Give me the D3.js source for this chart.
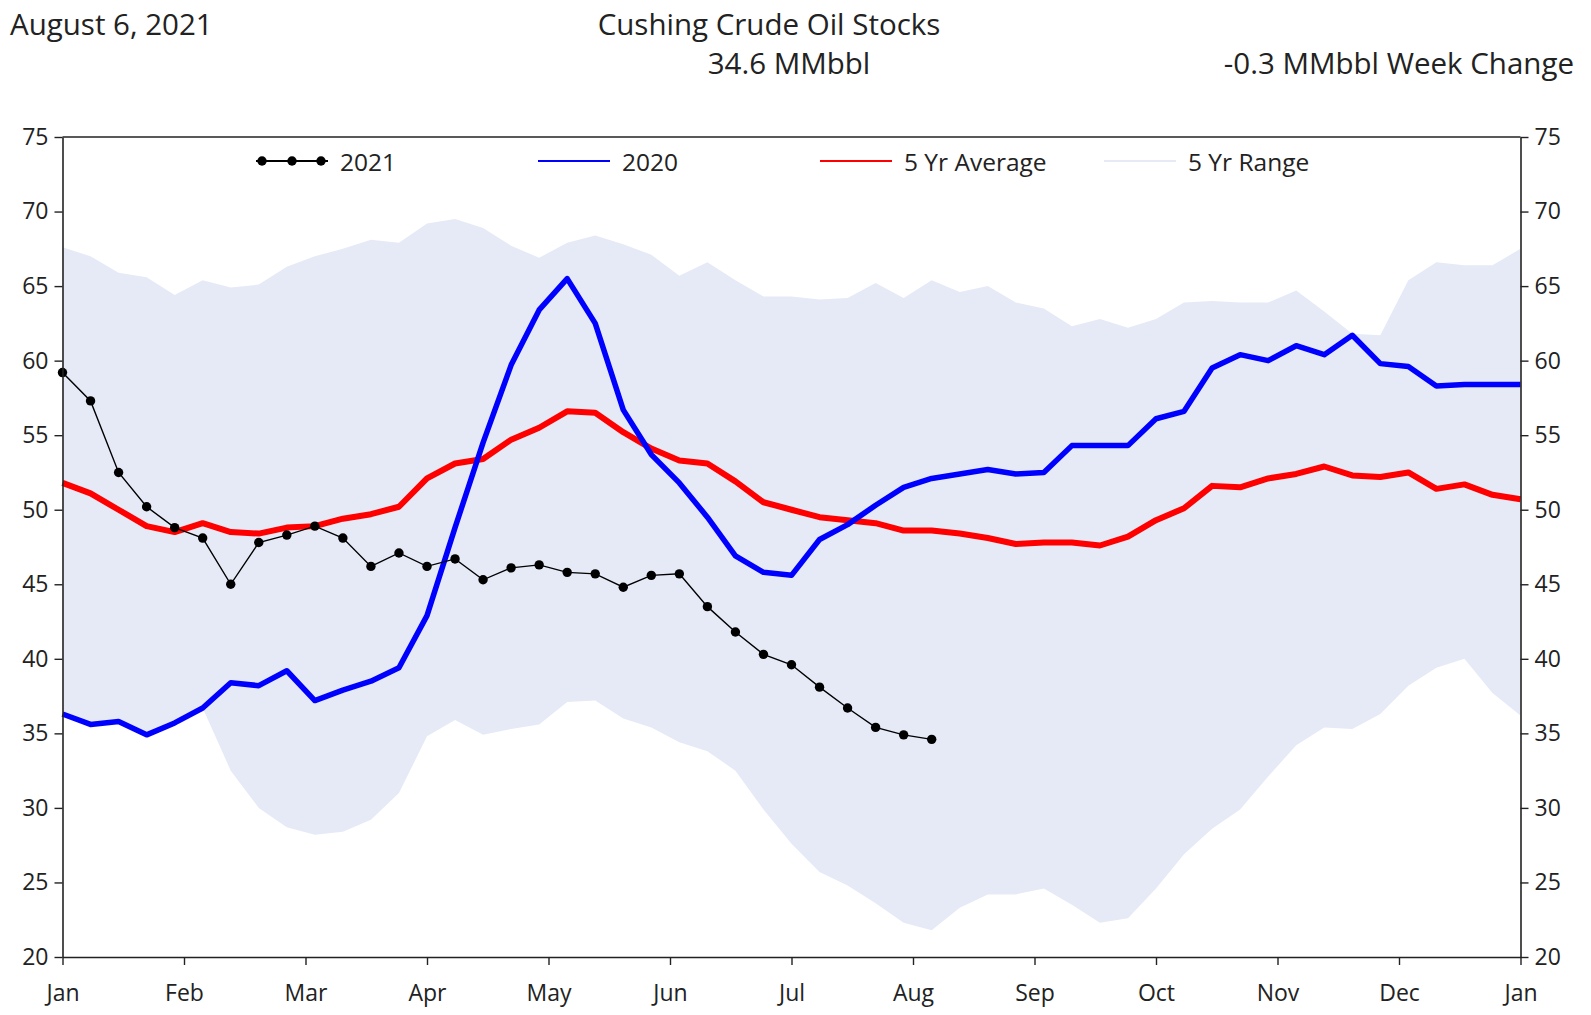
<!DOCTYPE html>
<html>
<head>
<meta charset="utf-8">
<script src="https://cdn.jsdelivr.net/npm/d3@7"></script>
<style>
  body { margin: 0; background: #fff; }
  svg { display: block; font-family: "Open Sans", "Noto Sans", sans-serif; }
</style>
</head>
<body>
<svg id="chart" width="1591" height="1015"></svg>
<script>
// weekly Cushing stocks, MMbbl (week 0 = first week of Jan)
var stocks2021 = [59.2, 57.3, 52.5, 50.2, 48.8, 48.1, 45.0, 47.8, 48.3, 48.9, 48.1, 46.2, 47.1, 46.2, 46.7, 45.3,
  46.1, 46.3, 45.8, 45.7, 44.8, 45.6, 45.7, 43.5, 41.8, 40.3, 39.6, 38.1, 36.7, 35.4, 34.9, 34.6];

var stocks2020 = [36.3, 35.6, 35.8, 34.9, 35.7, 36.7, 38.4, 38.2, 39.2, 37.2, 37.9, 38.5, 39.4, 42.9, 48.8, 54.5,
  59.7, 63.4, 65.5, 62.5, 56.7, 53.7, 51.8, 49.5, 46.9, 45.8, 45.6, 48.0, 49.0, 50.3, 51.5, 52.1,
  52.4, 52.7, 52.4, 52.5, 54.3, 54.3, 54.3, 56.1, 56.6, 59.5, 60.4, 60.0, 61.0, 60.4, 61.7, 59.8,
  59.6, 58.3, 58.4, 58.4, 58.4];

var avg5yr = [51.8, 51.1, 50.0, 48.9, 48.5, 49.1, 48.5, 48.4, 48.8, 48.9, 49.4, 49.7, 50.2, 52.1, 53.1, 53.4,
  54.7, 55.5, 56.6, 56.5, 55.2, 54.1, 53.3, 53.1, 51.9, 50.5, 50.0, 49.5, 49.3, 49.1, 48.6, 48.6,
  48.4, 48.1, 47.7, 47.8, 47.8, 47.6, 48.2, 49.3, 50.1, 51.6, 51.5, 52.1, 52.4, 52.9, 52.3, 52.2,
  52.5, 51.4, 51.7, 51.0, 50.7];

var rangeHigh5yr = [67.6, 67.0, 65.9, 65.6, 64.4, 65.4, 64.9, 65.1, 66.3, 67.0, 67.5, 68.1, 67.9, 69.2, 69.5, 68.9,
  67.7, 66.9, 67.9, 68.4, 67.8, 67.1, 65.7, 66.6, 65.4, 64.3, 64.3, 64.1, 64.2, 65.2, 64.2, 65.4,
  64.6, 65.0, 63.9, 63.5, 62.3, 62.8, 62.2, 62.8, 63.9, 64.0, 63.9, 63.9, 64.7, 63.3, 61.8, 61.7,
  65.4, 66.6, 66.4, 66.4, 67.5];

var rangeLow5yr = [36.3, 35.6, 35.8, 34.9, 35.7, 36.7, 32.5, 30.0, 28.7, 28.2, 28.4, 29.2, 31.0, 34.8, 35.9, 34.9,
  35.3, 35.6, 37.1, 37.2, 36.0, 35.4, 34.4, 33.8, 32.5, 29.9, 27.6, 25.7, 24.8, 23.6, 22.3, 21.8,
  23.3, 24.2, 24.2, 24.6, 23.5, 22.3, 22.6, 24.6, 26.9, 28.6, 29.9, 32.1, 34.2, 35.4, 35.3, 36.3,
  38.2, 39.4, 40.0, 37.7, 36.2];

var monthLabels = ["Jan", "Feb", "Mar", "Apr", "May", "Jun", "Jul", "Aug", "Sep", "Oct", "Nov", "Dec", "Jan"];
var yTicks = [20, 25, 30, 35, 40, 45, 50, 55, 60, 65, 70, 75];

var legendItems = [
  {label: "2021", color: "#000", kind: "markers"},
  {label: "2020", color: "#0000ff", kind: "line"},
  {label: "5 Yr Average", color: "#ff0000", kind: "line"},
  {label: "5 Yr Range", color: "#e6eaf6", kind: "line"}
];

var rangeFill = "#e6eaf6";
var axisColor = "#222";

var plotLeft = 62.5, plotRight = 1520.5, plotTop = 137, plotBottom = 957;

var x = d3.scaleLinear().domain([0, 52]).range([plotLeft, plotRight]);
var y = d3.scaleLinear().domain([20, 75]).range([plotBottom, plotTop]);

var svg = d3.select("#chart");

//titles
var titleSize = 29.5;
svg.append("text").attr("x", 10).attr("y", 23).attr("dominant-baseline", "central")
  .attr("font-size", titleSize).attr("fill", axisColor).text("August 6, 2021");
svg.append("text").attr("x", 769).attr("y", 23).attr("dominant-baseline", "central")
  .attr("text-anchor", "middle").attr("font-size", titleSize).attr("fill", axisColor).text("Cushing Crude Oil Stocks");
svg.append("text").attr("x", 789).attr("y", 62).attr("dominant-baseline", "central")
  .attr("text-anchor", "middle").attr("font-size", titleSize).attr("fill", axisColor).text("34.6 MMbbl");
svg.append("text").attr("x", 1574).attr("y", 62).attr("dominant-baseline", "central")
  .attr("text-anchor", "end").attr("font-size", titleSize).attr("fill", axisColor).text("-0.3 MMbbl Week Change");

//5 yr range band
var area = d3.area()
  .x(function(d, i) { return x(i); })
  .y0(function(d, i) { return y(rangeLow5yr[i]); })
  .y1(function(d) { return y(d); });

svg.append("path").datum(rangeHigh5yr)
  .attr("d", area).attr("fill", rangeFill);

var line = d3.line()
  .x(function(d, i) { return x(i); })
  .y(function(d) { return y(d); });

//5 yr average
svg.append("path").datum(avg5yr)
  .attr("d", line).attr("fill", "none")
  .attr("stroke", "#ff0000").attr("stroke-width", 6).attr("stroke-linejoin", "round");

//2020
svg.append("path").datum(stocks2020)
  .attr("d", line).attr("fill", "none")
  .attr("stroke", "#0000ff").attr("stroke-width", 5.5).attr("stroke-linejoin", "round");

//2021 line + markers
svg.append("path").datum(stocks2021)
  .attr("d", line).attr("fill", "none")
  .attr("stroke", "#000").attr("stroke-width", 1.4);

svg.append("g").selectAll("circle")
  .data(stocks2021)
  .join("circle")
  .attr("cx", function(d, i) { return x(i); })
  .attr("cy", function(d) { return y(d); })
  .attr("r", 4.7)
  .attr("fill", "#000");

//axes
var xAxis = d3.axisBottom(x)
  .tickValues(monthLabels.map(function(m, i) { return i * 52 / 12; }))
  .tickFormat(function(d, i) { return monthLabels[i]; })
  .tickSize(8).tickPadding(20).tickSizeOuter(0);

var gx = svg.append("g").attr("transform", "translate(0," + plotBottom + ")").call(xAxis);

var gl = svg.append("g").attr("transform", "translate(" + plotLeft + ",0)")
  .call(d3.axisLeft(y).tickValues(yTicks).tickSize(8).tickPadding(6).tickSizeOuter(0));

var gr = svg.append("g").attr("transform", "translate(" + plotRight + ",0)")
  .call(d3.axisRight(y).tickValues(yTicks).tickSize(8).tickPadding(6).tickSizeOuter(0));

svg.append("line")
  .attr("x1", plotLeft).attr("x2", plotRight).attr("y1", plotTop).attr("y2", plotTop)
  .attr("stroke", axisColor).attr("stroke-width", 1.6);

[gx, gl, gr].forEach(function(g) {
  g.selectAll(".domain").attr("stroke", axisColor).attr("stroke-width", 1.6);
  g.selectAll(".tick line").attr("stroke", axisColor).attr("stroke-width", 1.4);
  g.selectAll(".tick text").attr("fill", axisColor).attr("font-size", 23)
    .attr("font-family", "'Open Sans', 'Noto Sans', sans-serif");
});

//legend
var legendX = [256, 538, 820, 1104];
var legendY = 161;
var lg = svg.append("g");
legendItems.forEach(function(item, i) {
  var g = lg.append("g").attr("transform", "translate(" + legendX[i] + "," + legendY + ")");
  g.append("line").attr("x1", 0).attr("x2", 72).attr("y1", 0).attr("y2", 0)
    .attr("stroke", item.color).attr("stroke-width", 2);
  if (item.kind === "markers") {
    [6, 36, 65].forEach(function(cx) {
      g.append("circle").attr("cx", cx).attr("cy", 0).attr("r", 4.7).attr("fill", item.color);
    });
  }
  g.append("text").attr("x", 84).attr("y", 0).attr("dominant-baseline", "central")
    .attr("font-size", 24.5).attr("fill", axisColor).text(item.label);
});
</script>
</body>
</html>
